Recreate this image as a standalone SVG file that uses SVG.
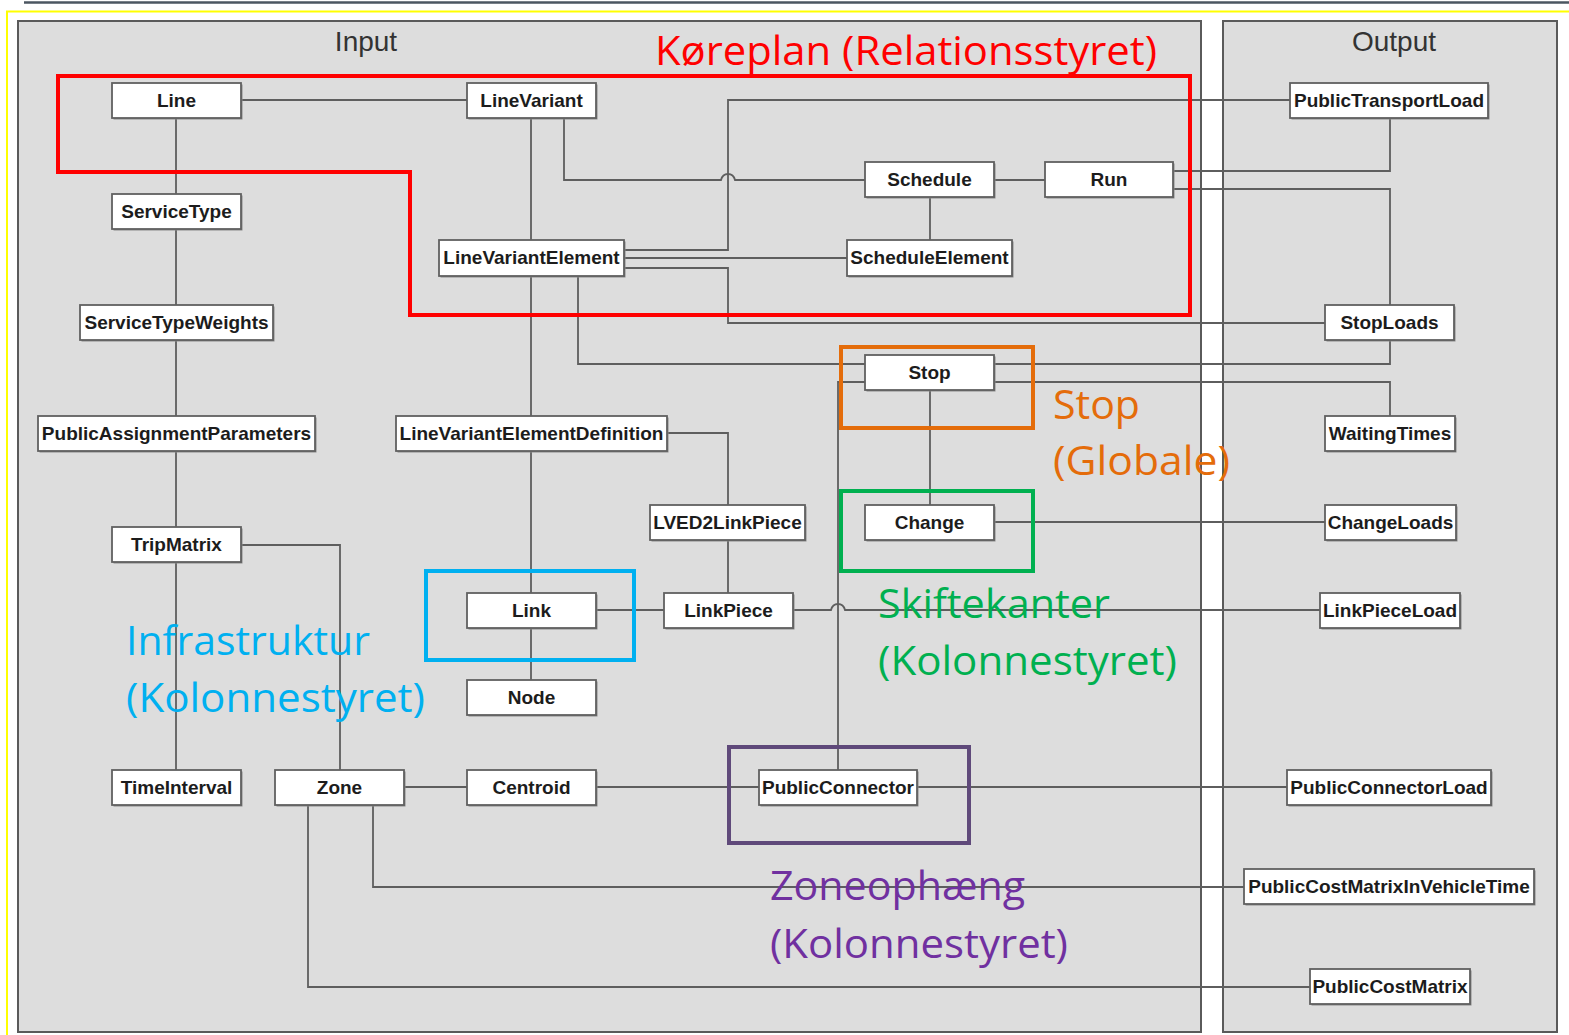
<svg xmlns="http://www.w3.org/2000/svg" width="1569" height="1035" viewBox="0 0 1569 1035">
<style>
.panel{fill:#dddddd;stroke:#5a5a5a;stroke-width:2}
.ptitle{font-family:"Liberation Sans",Arial,sans-serif;font-size:28px;fill:#333;text-anchor:middle}
.node rect.b{fill:#fff;stroke:#606060;stroke-width:1.8}
.node rect.s{fill:#8a8a8a}
.node text{font-family:"Liberation Sans",Arial,sans-serif;font-weight:bold;font-size:19px;fill:#1c1c1c;text-anchor:middle}
.conn{fill:none;stroke:#5e5e5e;stroke-width:1.8}
.ann{font-family:"Open Sans","Noto Sans",sans-serif;font-size:41px}
.box{fill:none;stroke-width:4}
</style>
<rect width="1569" height="1035" fill="#fff"/>
<line x1="24" y1="2.5" x2="1569" y2="2.5" stroke="#4b5661" stroke-width="2.5"/>
<path d="M7 1040 V11.5 H1569" fill="none" stroke="#ffff00" stroke-width="2"/>
<rect class="panel" x="18" y="21" width="1183" height="1011"/>
<rect class="panel" x="1223" y="21" width="334" height="1011"/>
<text class="ptitle" x="366" y="51">Input</text>
<text class="ptitle" x="1394" y="51">Output</text>

<g id="connectors" class="conn">
<path d="M241 100 H467"/>
<path d="M176 118 V194 M176 229 V305 M176 340 V416 M176 451 V527 M176 562 V770"/>
<path d="M531 118 V240 M531 276 V416 M531 451 V593 M531 628 V680"/>
<path d="M564 118 V180 H721 C723 172 733 172 735 180 H865"/>
<path d="M624 250 H728 V100 H1290"/>
<path d="M624 258 H847"/>
<path d="M624 268 H728 V323 H1325"/>
<path d="M578 276 V364 H865"/>
<path d="M994 364 H1390 V340"/>
<path d="M994 382 H1390 V416"/>
<path d="M865 382 H838 V770"/>
<path d="M994 180 H1045"/>
<path d="M930 197 V240"/>
<path d="M1173 171 H1390 V118"/>
<path d="M1173 189 H1390 V305"/>
<path d="M930 390 V505"/>
<path d="M994 522 H1325"/>
<path d="M667 433 H728 V505 M728 540 V593"/>
<path d="M596 610 H664"/>
<path d="M793 610 H831 C833 602 843 602 845 610 H1320"/>
<path d="M241 545 H340 V770"/>
<path d="M404 787 H467 M596 787 H759 M917 787 H1287"/>
<path d="M373 805 V887 H1244"/>
<path d="M308 805 V987 H1310"/>
</g>

<g id="n-line" class="node"><rect class="s" x="113.5" y="84.5" width="129" height="35"/><rect class="b" x="112" y="83" width="129" height="35"/><text x="176.5" y="107">Line</text></g>
<g id="n-linevariant" class="node"><rect class="s" x="468.5" y="84.5" width="129" height="35"/><rect class="b" x="467" y="83" width="129" height="35"/><text x="531.5" y="107">LineVariant</text></g>
<g id="n-servicetype" class="node"><rect class="s" x="113.5" y="195.5" width="129" height="35"/><rect class="b" x="112" y="194" width="129" height="35"/><text x="176.5" y="218">ServiceType</text></g>
<g id="n-servicetypeweights" class="node"><rect class="s" x="81.5" y="306.5" width="193" height="35"/><rect class="b" x="80" y="305" width="193" height="35"/><text x="176.5" y="329">ServiceTypeWeights</text></g>
<g id="n-pap" class="node"><rect class="s" x="39.5" y="417.5" width="277" height="35"/><rect class="b" x="38" y="416" width="277" height="35"/><text x="176.5" y="440">PublicAssignmentParameters</text></g>
<g id="n-tripmatrix" class="node"><rect class="s" x="113.5" y="528.5" width="129" height="35"/><rect class="b" x="112" y="527" width="129" height="35"/><text x="176.5" y="551">TripMatrix</text></g>
<g id="n-timeinterval" class="node"><rect class="s" x="113.5" y="771.5" width="129" height="35"/><rect class="b" x="112" y="770" width="129" height="35"/><text x="176.5" y="794">TimeInterval</text></g>
<g id="n-zone" class="node"><rect class="s" x="276.5" y="771.5" width="129" height="35"/><rect class="b" x="275" y="770" width="129" height="35"/><text x="339.5" y="794">Zone</text></g>
<g id="n-centroid" class="node"><rect class="s" x="468.5" y="771.5" width="129" height="35"/><rect class="b" x="467" y="770" width="129" height="35"/><text x="531.5" y="794">Centroid</text></g>
<g id="n-publicconnector" class="node"><rect class="s" x="760.5" y="771.5" width="158" height="35"/><rect class="b" x="759" y="770" width="158" height="35"/><text x="838" y="794">PublicConnector</text></g>
<g id="n-lve" class="node"><rect class="s" x="440.5" y="241.5" width="185" height="36"/><rect class="b" x="439" y="240" width="185" height="36"/><text x="531.5" y="264">LineVariantElement</text></g>
<g id="n-lved" class="node"><rect class="s" x="397.5" y="417.5" width="271" height="35"/><rect class="b" x="396" y="416" width="271" height="35"/><text x="531.5" y="440">LineVariantElementDefinition</text></g>
<g id="n-lved2lp" class="node"><rect class="s" x="651.5" y="506.5" width="155" height="35"/><rect class="b" x="650" y="505" width="155" height="35"/><text x="727.5" y="529">LVED2LinkPiece</text></g>
<g id="n-link" class="node"><rect class="s" x="468.5" y="594.5" width="129" height="35"/><rect class="b" x="467" y="593" width="129" height="35"/><text x="531.5" y="617">Link</text></g>
<g id="n-node" class="node"><rect class="s" x="468.5" y="681.5" width="129" height="35"/><rect class="b" x="467" y="680" width="129" height="35"/><text x="531.5" y="704">Node</text></g>
<g id="n-linkpiece" class="node"><rect class="s" x="665.5" y="594.5" width="129" height="35"/><rect class="b" x="664" y="593" width="129" height="35"/><text x="728.5" y="617">LinkPiece</text></g>
<g id="n-schedule" class="node"><rect class="s" x="866.5" y="163.5" width="129" height="35"/><rect class="b" x="865" y="162" width="129" height="35"/><text x="929.5" y="186">Schedule</text></g>
<g id="n-run" class="node"><rect class="s" x="1046.5" y="163.5" width="128" height="35"/><rect class="b" x="1045" y="162" width="128" height="35"/><text x="1109" y="186">Run</text></g>
<g id="n-scheduleelement" class="node"><rect class="s" x="848.5" y="241.5" width="165" height="36"/><rect class="b" x="847" y="240" width="165" height="36"/><text x="929.5" y="264">ScheduleElement</text></g>
<g id="n-stop" class="node"><rect class="s" x="866.5" y="356.5" width="129" height="35"/><rect class="b" x="865" y="355" width="129" height="35"/><text x="929.5" y="379">Stop</text></g>
<g id="n-change" class="node"><rect class="s" x="866.5" y="506.5" width="129" height="35"/><rect class="b" x="865" y="505" width="129" height="35"/><text x="929.5" y="529">Change</text></g>
<g id="n-ptl" class="node"><rect class="s" x="1291.5" y="84.5" width="198" height="35"/><rect class="b" x="1290" y="83" width="198" height="35"/><text x="1389" y="107">PublicTransportLoad</text></g>
<g id="n-stoploads" class="node"><rect class="s" x="1326.5" y="306.5" width="129" height="35"/><rect class="b" x="1325" y="305" width="129" height="35"/><text x="1389.5" y="329">StopLoads</text></g>
<g id="n-waitingtimes" class="node"><rect class="s" x="1326.5" y="417.5" width="130" height="35"/><rect class="b" x="1325" y="416" width="130" height="35"/><text x="1390" y="440">WaitingTimes</text></g>
<g id="n-changeloads" class="node"><rect class="s" x="1326.5" y="506.5" width="131" height="35"/><rect class="b" x="1325" y="505" width="131" height="35"/><text x="1390.5" y="529">ChangeLoads</text></g>
<g id="n-linkpieceload" class="node"><rect class="s" x="1321.5" y="594.5" width="140" height="35"/><rect class="b" x="1320" y="593" width="140" height="35"/><text x="1390" y="617">LinkPieceLoad</text></g>
<g id="n-pcl" class="node"><rect class="s" x="1288.5" y="771.5" width="204" height="35"/><rect class="b" x="1287" y="770" width="204" height="35"/><text x="1389" y="794">PublicConnectorLoad</text></g>
<g id="n-pcmivt" class="node"><rect class="s" x="1245.5" y="870.5" width="290" height="35"/><rect class="b" x="1244" y="869" width="290" height="35"/><text x="1389" y="893">PublicCostMatrixInVehicleTime</text></g>
<g id="n-pcm" class="node"><rect class="s" x="1311.5" y="970.5" width="160" height="35"/><rect class="b" x="1310" y="969" width="160" height="35"/><text x="1390" y="993">PublicCostMatrix</text></g>

<g id="ann-red">
<path class="box" stroke="#ff0000" d="M58 76 H1190 V315 H410 V172 H58 Z"/>
<text class="ann" fill="#ff0000" x="655" y="65" textLength="502" lengthAdjust="spacingAndGlyphs">Køreplan (Relationsstyret)</text>
</g>
<g id="ann-orange">
<rect class="box" stroke="#e46c0a" x="841" y="347" width="192" height="81"/>
<text class="ann" fill="#e46c0a" x="1053" y="419" textLength="87" lengthAdjust="spacingAndGlyphs">Stop</text>
<text class="ann" fill="#e46c0a" x="1053" y="475" textLength="177" lengthAdjust="spacingAndGlyphs">(Globale)</text>
</g>
<g id="ann-green">
<rect class="box" stroke="#00b050" x="841" y="491" width="192" height="80"/>
<text class="ann" fill="#00b050" x="878" y="618" textLength="232" lengthAdjust="spacingAndGlyphs">Skiftekanter</text>
<text class="ann" fill="#00b050" x="878" y="675" textLength="299" lengthAdjust="spacingAndGlyphs">(Kolonnestyret)</text>
</g>
<g id="ann-blue">
<rect class="box" stroke="#00b0f0" x="426" y="571" width="208" height="89"/>
<text class="ann" fill="#00b0f0" x="126" y="655" textLength="244" lengthAdjust="spacingAndGlyphs">Infrastruktur</text>
<text class="ann" fill="#00b0f0" x="126" y="712" textLength="299" lengthAdjust="spacingAndGlyphs">(Kolonnestyret)</text>
</g>
<g id="ann-purple">
<rect class="box" stroke="#5f497a" x="729" y="747" width="240" height="96"/>
<text class="ann" fill="#7030a0" x="770" y="900" textLength="255" lengthAdjust="spacingAndGlyphs">Zoneophæng</text>
<text class="ann" fill="#7030a0" x="770" y="958" textLength="298" lengthAdjust="spacingAndGlyphs">(Kolonnestyret)</text>
</g>
</svg>
